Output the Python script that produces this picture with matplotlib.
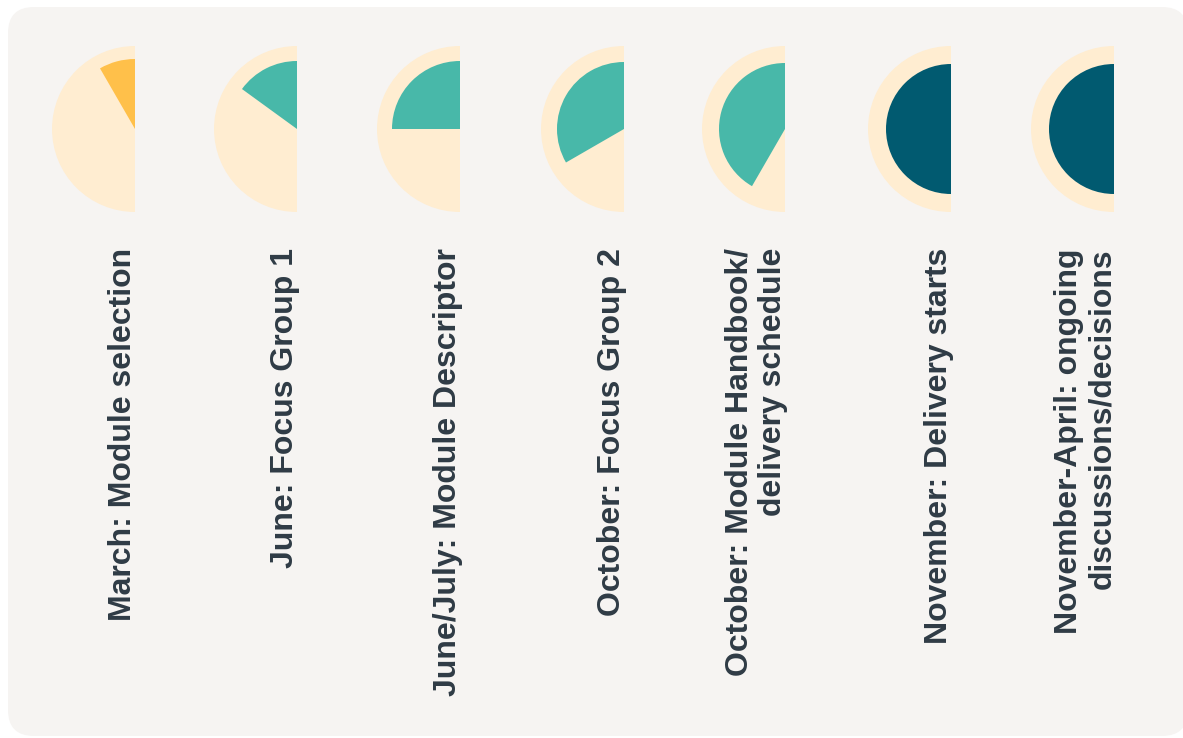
import numpy as np
import matplotlib.pyplot as plt
from matplotlib.patches import Wedge, FancyBboxPatch

plt.rcParams['font.family'] = ['Liberation Sans', 'DejaVu Sans']

labels = ['March: Module selection',
          'June: Focus Group 1',
          'June/July: Module Descriptor',
          'October: Focus Group 2',
          'October: Module Handbook/\ndelivery schedule',
          'November: Delivery starts',
          'November-April: ongoing\ndiscussions/decisions']
progress = [1/6, 0.30, 0.5, 2/3, 5/6, 1.0, 1.0]   # share of the half circle filled
colors = ['#FFC04A', '#48B8A9', '#48B8A9', '#48B8A9', '#48B8A9', '#015A70', '#015A70']

# layout (pixels)
centers_x = [135, 297, 460, 624, 785, 951, 1114]
center_y = 129
outer_r = 83
inner_r = [70, 68, 68, 67, 66, 65, 65]

fig = plt.figure(figsize=(11.83, 7.38), dpi=100)
ax = fig.add_axes([0, 0, 1, 1])
ax.set_xlim(0, 1183)
ax.set_ylim(738, 0)
ax.axis('off')

panel = FancyBboxPatch((8, 7), 1180, 729, boxstyle='round,pad=0,rounding_size=26',
                       facecolor='#F6F4F2', edgecolor='none')
ax.add_patch(panel)

for i in range(len(labels)):
    cx = centers_x[i]
    # background half disc (y axis inverted: 90 = bottom, 270 = top)
    ax.add_patch(Wedge((cx, center_y), outer_r, 90, 270, facecolor='#FFEDD1', edgecolor='none'))
    ang = 180 * progress[i]
    ax.add_patch(Wedge((cx, center_y), inner_r[i], 270 - ang, 270,
                       facecolor=colors[i], edgecolor='none'))
    ax.text(cx + 3, 248, labels[i], rotation=90, ha='right', va='top', multialignment='right',
            fontsize=23, fontweight='bold', color='#2F3B45', linespacing=1.15)

fig.savefig('out.png', dpi=100, facecolor='white')
